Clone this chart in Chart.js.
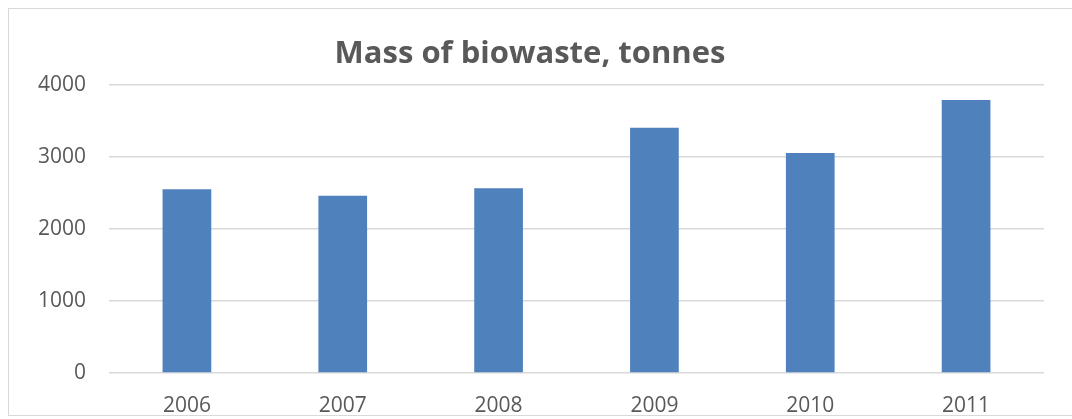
<!DOCTYPE html>
<html>
<head>
<meta charset="utf-8">
<script src="https://cdn.jsdelivr.net/npm/chart.js@4"></script>
<style>
    body { margin: 0; background: #fff; overflow: hidden; }
    #wrap { position: relative; width: 1072px; height: 419px; }
    #frame { position: absolute; left: 8px; top: 8px; width: 1080px; height: 406px; border: 1px solid #d9d9d9; pointer-events: none; }
</style>
</head>
<body>
<div id="wrap">
    <canvas id="bio-chart" width="1072" height="419"></canvas>
    <div id="frame"></div>
</div>
<script>
var years = ["2006", "2007", "2008", "2009", "2010", "2011"];
var biowaste = [2551, 2458, 2565, 3403, 3051, 3787];
var yTicks = [0, 1000, 2000, 3000, 4000];

var config = {
    type: 'bar',
    data: {
        labels: years,
        datasets: [{
            label: 'Mass of biowaste, tonnes',
            data: biowaste,
            backgroundColor: "#4F81BD",
            borderWidth: 0,
            categoryPercentage: 1,
            barPercentage: 0.3125
        }]
    },
    options: {
        responsive: false,
        animation: false,
        layout: { padding: { left: 16, right: 28, top: 0, bottom: 0 } },
        plugins: {
            legend: { display: false },
            tooltip: { enabled: false },
            title: {
                display: true,
                text: 'Mass of biowaste, tonnes',
                color: "#595959",
                font: { family: "'Open Sans'", size: 31, weight: 'bold' },
                padding: { top: 36, bottom: 11.5 }
            }
        },
        scales: {
            x: {
                grid: { display: false, drawTicks: false },
                border: { display: false },
                ticks: { color: "#595959", font: { family: "'Open Sans'", size: 21 }, padding: 20 },
                afterFit: function(scale) { scale.height = 46; }
            },
            y: {
                min: yTicks[0],
                max: yTicks[yTicks.length - 1],
                grid: { color: "#d9d9d9", lineWidth: 1.5, drawTicks: false },
                border: { display: false },
                ticks: {
                    stepSize: 1000,
                    color: "#595959",
                    font: { family: "'Open Sans'", size: 21 },
                    padding: 23,
                    callback: function(value) { return String(value); }
                },
                afterFit: function(scale) { scale.width = 93; }
            }
        }
    }
};

var ctx = document.getElementById("bio-chart").getContext("2d");
window.bioChart = new Chart(ctx, config);
</script>
</body>
</html>
